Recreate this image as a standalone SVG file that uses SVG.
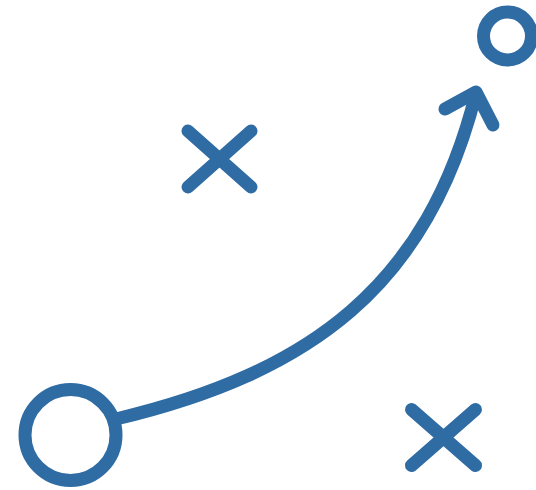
<svg xmlns="http://www.w3.org/2000/svg" width="536" height="490" viewBox="0 0 536 490">
<style>
.s{fill:none;stroke:#2f6ca4;stroke-width:13;stroke-linecap:round;stroke-linejoin:round}
</style>
<rect width="536" height="490" fill="#ffffff"/>
<g id="start"><circle class="s" cx="70.5" cy="435" r="45.5"/></g>
<g id="goal"><circle class="s" cx="507.5" cy="36" r="24"/></g>
<g id="x1"><path class="s" d="M188 131L251 187M251 131L188 187"/></g>
<g id="x2"><path class="s" d="M411.5 409.5L475.5 465.5M475.5 409.5L411.5 465.5"/></g>
<g id="connectors">
<path class="s" d="M116 419C310 373 428 286 476 93"/>
<path class="s" d="M445 109L476 92L493 125"/>
</g>
</svg>
